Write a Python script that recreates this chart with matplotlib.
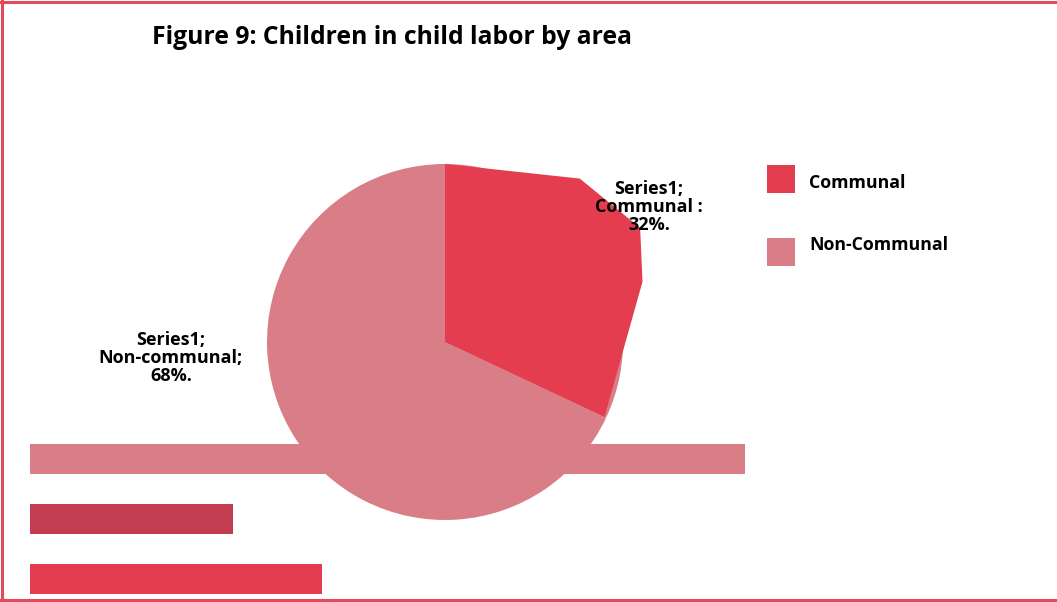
import numpy as np
import matplotlib
matplotlib.use('Agg')
from matplotlib import pyplot as plt
from matplotlib.patches import Polygon, Rectangle
from matplotlib.lines import Line2D

# Pie data
areas = ['Communal', 'Non-Communal']
shares = [32, 68]
label_text = ['Series1;\nCommunal :\n32%.', 'Series1;\nNon-communal;\n68%.']

# Background bars
bar_values = [100, 28.4, 40.8]

red = '#E33D4F'
pink = '#D97D86'
dark_red = '#C33D50'
border = '#E04A5B'

W, H = 1057, 602
fig = plt.figure(figsize=(W / 100, H / 100), dpi=100)
fig.patch.set_facecolor('white')


def fx(px):
    return px / W


def fy(py):
    return 1 - py / H


# bars sit underneath the pie
bar_ax = fig.add_axes([fx(30), fy(609), fx(715), (609 - 429) / H], zorder=1)
bar_ax.barh(range(len(bar_values)), bar_values, height=0.5,
            color=[pink, dark_red, red], clip_on=False)
bar_ax.set_xlim(0, 100)
bar_ax.set_ylim(2.5, -0.5)
bar_ax.axis('off')

# pie axes: 178 px radius centred at (445, 342)
R = 178
half = 300
pie_ax = fig.add_axes([fx(445 - half), fy(342 + half), 2 * half / W, 2 * half / H], zorder=2)
wedges, _ = pie_ax.pie(shares, colors=[red, pink], startangle=90, counterclock=False,
                       radius=1, wedgeprops=dict(linewidth=0))
pie_ax.set_xlim(-half / R, half / R)
pie_ax.set_ylim(-half / R, half / R)
pie_ax.axis('off')
for w in wedges:
    w.set_clip_on(False)

# full pink disc underneath, communal slice drawn as a coarse outline on top
wedges[0].set_facecolor(pink)
t1, t2 = wedges[0].theta1, wedges[0].theta2
steps = [0, 0.343, 0.518, 0.634, 1.0]
radii = [1.0, 1.19, 1.27, 1.16, 0.99]
pts = [(0, 0)]
for s, r in zip(steps, radii):
    a = np.deg2rad(t2 - s * (t2 - t1))
    pts.append((r * np.cos(a), r * np.sin(a)))
pie_ax.add_patch(Polygon(pts, closed=True, facecolor=red, edgecolor='none',
                         clip_on=False, zorder=3))

# data labels
fig.text(fx(649), fy(207), label_text[0], ha='center', va='center', fontsize=13,
         fontweight='bold', family='Open Sans', linespacing=1.03, zorder=5)
fig.text(fx(171), fy(358), label_text[1], ha='center', va='center', fontsize=13,
         fontweight='bold', family='Open Sans', linespacing=1.03, zorder=5)

# title
fig.text(fx(392), fy(37), 'Figure 9: Children in child labor by area', ha='center',
         va='center', fontsize=17.8, fontweight='bold', family='Open Sans')

# legend: 28 px swatches
swatch_top = [165, 238]
text_y = [183, 245]
for name, col, top, ty in zip(areas, [red, pink], swatch_top, text_y):
    fig.add_artist(Rectangle((fx(767), fy(top + 28)), 28 / W, 28 / H,
                             facecolor=col, edgecolor='none'))
    fig.text(fx(809), fy(ty), name, ha='left', va='center', fontsize=12.8,
             fontweight='bold', family='Open Sans')

# outer frame (left, top, bottom)
for xs, ys in [([fx(1.5), fx(1.5)], [0, 1]), ([0, 1], [fy(1.5), fy(1.5)]),
               ([0, 1], [fy(599.5), fy(599.5)])]:
    fig.add_artist(Line2D(xs, ys, color=border, linewidth=2.2))

fig.savefig('out.png', dpi=100)
